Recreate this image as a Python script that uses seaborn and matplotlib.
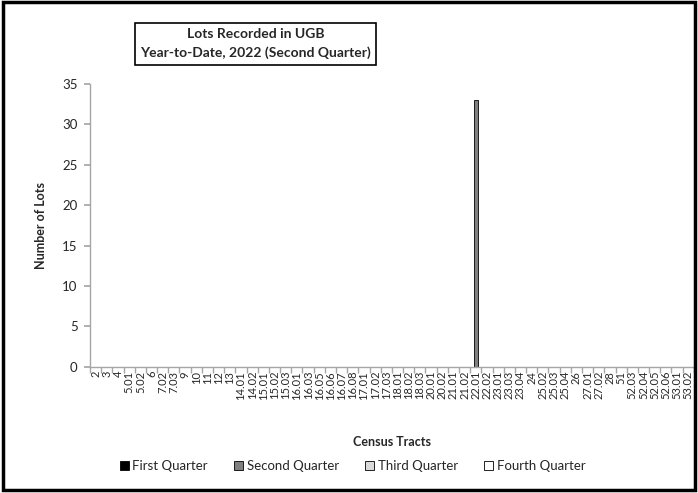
import numpy as np
import pandas as pd
import matplotlib
matplotlib.use("Agg")
import matplotlib.pyplot as plt
import seaborn as sns
from matplotlib.patches import Patch, Rectangle


tracts = ["2", "3", "4", "5.01", "5.02", "6", "7.02", "7.03", "9", "10", "11", "12", "13",
          "14.01", "14.02", "15.01", "15.02", "15.03", "16.01", "16.03", "16.05", "16.06",
          "16.07", "16.08", "17.01", "17.02", "17.03", "18.01", "18.02", "18.03", "20.01",
          "20.02", "21.01", "21.02", "22.01", "22.02", "23.01", "23.03", "23.04", "24",
          "25.02", "25.03", "25.04", "26", "27.01", "27.02", "28", "51", "52.03", "52.04",
          "52.05", "52.06", "53.01", "53.02"]
quarters = ["First Quarter", "Second Quarter", "Third Quarter", "Fourth Quarter"]
quarter_colors = ["#000000", "#808080", "#d9d9d9", "#ffffff"]

# only tract 22.01 had lots recorded, all in Q2
q1 = [0] * len(tracts)
q2 = [33 if t == "22.01" else 0 for t in tracts]
q3 = [0] * len(tracts)
q4 = [0] * len(tracts)


def build_frame() -> pd.DataFrame:
    rows = []
    for q, vals in zip(quarters, [q1, q2, q3, q4]):
        for t, v in zip(tracts, vals):
            rows.append({"tract": t, "quarter": q, "lots": v})
    return pd.DataFrame(rows)


def main():
    df = build_frame()
    sns.set_theme(style="white")
    plt.rcParams["font.family"] = ["Lato", "DejaVu Sans"]

    fig = plt.figure(figsize=(6.98, 4.93), dpi=100)
    ax = fig.add_axes([0.129, 0.256, 0.865, 0.574])

    sns.barplot(data=df, x="tract", y="lots", hue="quarter", order=tracts,
                hue_order=quarters, palette=quarter_colors, dodge=False,
                width=0.4, edgecolor="black", linewidth=0.6, ax=ax, legend=False)

    ax.set_ylim(0, 35)
    ax.set_yticks(range(0, 36, 5))
    ax.set_xlim(-0.5, len(tracts) - 0.5)
    ax.set_xticks(np.arange(-0.5, len(tracts), 1), minor=True)
    ax.tick_params(axis="x", which="major", length=0, labelsize=8, rotation=90, pad=3)
    ax.tick_params(axis="x", which="minor", length=4, direction="out", color="#a6a6a6",
                   bottom=True)
    ax.tick_params(axis="y", length=4, direction="out", color="#a6a6a6", labelsize=9.5,
                   left=True, pad=5)
    for lab in ax.get_xticklabels():
        lab.set_verticalalignment("top")

    for side in ["top", "right"]:
        ax.spines[side].set_visible(False)
    for side in ["left", "bottom"]:
        ax.spines[side].set_color("#a6a6a6")
        ax.spines[side].set_linewidth(1.0)

    ax.set_xlabel("Census Tracts", fontsize=9, fontweight="bold")
    ax.xaxis.set_label_coords(0.5, -0.245)
    ax.set_ylabel("Number of Lots", fontsize=9, fontweight="bold")
    ax.yaxis.set_label_coords(-0.072, 0.5)

    fig.text(0.366, 0.911, "Lots Recorded in UGB\nYear-to-Date, 2022 (Second Quarter)",
             ha="center", va="center", fontsize=10, fontweight="bold", linespacing=1.6,
             bbox=dict(boxstyle="square,pad=0.4", facecolor="white", edgecolor="black",
                       linewidth=1.2))

    handles = [Patch(facecolor=c, edgecolor="black", linewidth=0.6) for c in quarter_colors]
    fig.legend(handles, quarters, loc="center", bbox_to_anchor=(0.505, 0.054), ncol=4,
               frameon=False, fontsize=9.5, handlelength=0.7, handleheight=0.7,
               handletextpad=0.25, columnspacing=2.0)

    fig.patches.append(Rectangle((0.004, 0.006), 0.992, 0.99, transform=fig.transFigure,
                                 fill=False, edgecolor="black", linewidth=2.5))

    fig.savefig("out.png", dpi=100)
    plt.close(fig)


if __name__ == "__main__":
    main()
